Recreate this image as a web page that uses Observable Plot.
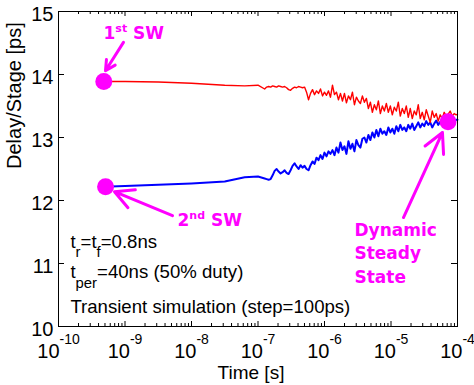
<!DOCTYPE html>
<html><head><meta charset="utf-8">
<script src="https://cdn.jsdelivr.net/npm/d3@7"></script>
<script src="https://cdn.jsdelivr.net/npm/@observablehq/plot@0.6"></script>
<style>body{margin:0;background:#fff}</style>
</head><body><div id="chart"></div>
<script>
// time samples as log10(seconds)
const logTime = [-9.32,-9.0,-8.5,-8.0,-7.5,-7.2,-7.0,
 -6.90,-6.87,-6.84,-6.81,-6.78,-6.75,-6.72,-6.69,-6.66,-6.63,
 -6.60,-6.57,-6.54,-6.51,-6.48,-6.45,-6.42,-6.39,-6.36,-6.33,
 -6.30,-6.27,-6.24,-6.21,-6.18,-6.15,-6.12,-6.09,-6.06,-6.03,
 -6.00,-5.97,-5.94,-5.91,-5.88,-5.85,-5.82,-5.79,-5.76,-5.73,
 -5.70,-5.67,-5.64,-5.61,-5.58,-5.55,-5.52,-5.49,-5.46,-5.43,
 -5.40,-5.37,-5.34,-5.31,-5.28,-5.25,-5.22,-5.19,-5.16,-5.13,
 -5.10,-5.07,-5.04,-5.01,-4.98,-4.95,-4.92,-4.89,-4.86,-4.83,
 -4.80,-4.77,-4.74,-4.71,-4.68,-4.65,-4.62,-4.59,-4.56,-4.53,
 -4.50,-4.47,-4.44,-4.41,-4.38,-4.35,-4.32,-4.29,-4.26,-4.23,
 -4.20,-4.17,-4.14,-4.11,-4.08,-4.05,-4.02,-4.00];
const red = [13.89,13.89,13.88,13.86,13.83,13.82,13.83,
 13.77,13.80,13.81,13.80,13.82,13.81,13.80,13.82,13.81,13.80,
 13.81,13.79,13.76,13.75,13.78,13.80,13.79,13.81,13.80,13.79,
 13.80,13.72,13.60,13.70,13.76,13.68,13.74,13.70,13.77,13.66,
 13.72,13.67,13.74,13.64,13.83,13.68,13.72,13.60,13.70,13.58,
 13.70,13.55,13.66,13.60,13.72,13.52,13.64,13.58,13.54,13.66,
 13.56,13.62,13.46,13.56,13.40,13.52,13.44,13.58,13.38,13.50,
 13.42,13.54,13.40,13.50,13.36,13.48,13.42,13.56,13.34,13.46,
 13.38,13.50,13.32,13.46,13.30,13.42,13.36,13.52,13.30,13.40,
 13.28,13.44,13.34,13.24,13.42,13.32,13.38,13.26,13.36,13.30,
 13.40,13.34,13.37,13.42,13.34,13.38,13.36,13.37];
const blue = [12.22,12.23,12.25,12.27,12.30,12.37,12.38,
 12.35,12.34,12.33,12.34,12.40,12.47,12.50,12.46,12.43,12.45,
 12.48,12.44,12.42,12.48,12.55,12.59,12.54,12.50,12.56,12.52,
 12.55,12.50,12.48,12.56,12.62,12.58,12.68,12.64,12.72,12.66,
 12.76,12.70,12.78,12.74,12.80,12.72,12.84,12.76,12.92,12.80,
 12.86,12.74,12.94,12.82,12.90,12.78,12.96,12.88,12.84,12.98,
 13.00,12.92,13.04,12.96,13.08,13.00,13.12,13.02,13.14,13.06,
 13.10,13.04,13.16,13.08,13.14,13.06,13.18,13.10,13.20,13.12,
 13.16,13.10,13.20,13.14,13.22,13.12,13.18,13.24,13.16,13.22,
 13.18,13.26,13.20,13.24,13.16,13.22,13.27,13.20,13.25,13.22,
 13.24,13.26,13.22,13.25,13.27,13.26,13.28,13.28];

const markerTime = [4.8e-10, 5.1e-10, 7.2e-5];
const markerValue = [13.89, 12.22, 13.25];

const arrowFrom = [[9.48e-10, 14.51], [5.18e-9, 11.76], [1.54e-5, 11.73]];
const arrowTo   = [[5.09e-10, 14.06], [6.95e-10, 12.14], [5.94e-5, 13.08]];

const calloutText = ["1^{st} SW", "2^{nd} SW", "Dynamic\nSteady\nState"];
const calloutPos = [[4.75e-10, 14.57], [6.15e-9, 11.603], [2.82e-6, 10.698]];

const noteText = ["t_{r}=t_{f}=0.8ns", "t_{per}=40ns (50% duty)", "Transient simulation (step=100ps)"];
const notePos = [[1.51e-10, 11.246], [1.51e-10, 10.762], [1.51e-10, 10.222]];

const xTicks = [1e-10, 1e-9, 1e-8, 1e-7, 1e-6, 1e-5, 1e-4];
const xMinor = xTicks.slice(0, -1).flatMap(m => [2,3,4,5,6,7,8,9].map(k => k * m));
const yTicks = [10, 11, 12, 13, 14, 15];
const xLabel = "Time [s]";
const yLabel = "Delay/Stage [ps]";

const redData = logTime.map((e, i) => ({t: 10 ** e, v: red[i]}));
const blueData = logTime.map((e, i) => ({t: 10 ** e, v: blue[i]}));
const markers = markerTime.map((t, i) => ({t, v: markerValue[i]}));
const arrows = arrowFrom.map((a, i) => ({x1: a[0], y1: a[1], x2: arrowTo[i][0], y2: arrowTo[i][1]}));
const callouts = calloutText.map((s, i) => ({s, t: calloutPos[i][0], v: calloutPos[i][1]}));
const notes = noteText.map((s, i) => ({s, t: notePos[i][0], v: notePos[i][1]}));

const W = 474, H = 385, mL = 58, mR = 17, mT = 11, mB = 59;
const fw = W - mL - mR, fh = H - mT - mB;
const MAG = "#ff00ff";
const SANS = "Liberation Sans, Arial, Helvetica, sans-serif";

const chart = Plot.plot({
  width: W, height: H,
  marginLeft: mL, marginRight: mR, marginTop: mT, marginBottom: mB,
  style: {fontFamily: SANS, background: "white", color: "black"},
  x: {type: "log", domain: [1e-10, 1e-4]},
  y: {domain: [10, 15]},
  marks: [
    Plot.line(blueData, {x: "t", y: "v", stroke: "#0000ff", strokeWidth: 2}),
    Plot.line(redData, {x: "t", y: "v", stroke: "#ff0000", strokeWidth: 1.4}),
    Plot.dot(markers, {x: "t", y: "v", r: 8.5, fill: MAG}),
    Plot.arrow(arrows, {x1: "x1", y1: "y1", x2: "x2", y2: "y2", stroke: MAG, strokeWidth: 3, headLength: 11, headAngle: 55}),
    Plot.text(callouts, {x: "t", y: "v", text: "s", fill: MAG, fontWeight: "bold", fontSize: 17,
      fontFamily: "DejaVu Sans, sans-serif", textAnchor: "start", lineAnchor: "bottom", lineHeight: 1.38}),
    Plot.text(notes, {x: "t", y: "v", text: "s", fill: "black", fontSize: 18.6, textAnchor: "start", lineAnchor: "bottom"}),
    Plot.axisX({ticks: xTicks, tickFormat: d => `10^{${Math.round(Math.log10(d))}}`, tickSize: 0, tickPadding: 17, fontSize: 20, label: null}),
    Plot.axisY({ticks: yTicks, tickFormat: d => String(d), tickSize: 0, tickPadding: 5, fontSize: 20, dy: 3.5, label: null}),
    Plot.tickX(xTicks, {x: d => d, stroke: "black", insetTop: fh - 5}),
    Plot.tickX(xTicks, {x: d => d, stroke: "black", insetBottom: fh - 5}),
    Plot.tickX(xMinor, {x: d => d, stroke: "black", insetTop: fh - 3}),
    Plot.tickX(xMinor, {x: d => d, stroke: "black", insetBottom: fh - 3}),
    Plot.tickY(yTicks, {y: d => d, stroke: "black", insetRight: fw - 6}),
    Plot.tickY(yTicks, {y: d => d, stroke: "black", insetLeft: fw - 6}),
    Plot.frame({stroke: "black", strokeWidth: 1}),
    Plot.text([xLabel], {text: d => d, frameAnchor: "bottom", lineAnchor: "bottom", dx: -7, dy: 52, fontSize: 19}),
    Plot.text([yLabel], {text: d => d, frameAnchor: "left", rotate: -90, dx: -43.5, fontSize: 20})
  ]
});
document.getElementById("chart").appendChild(chart);

// rich text: ^{...} superscripts and _{...} subscripts rendered as tspans
function richify(text, o) {
  const s = text.textContent;
  if (!/[\^_]\{/.test(s) || text.querySelector("tspan")) return;
  const holder = text.closest("[font-size]");
  const fs = holder ? parseFloat(holder.getAttribute("font-size")) : 10;
  text.textContent = "";
  const re = /([\^_])\{([^}]*)\}/g;
  let last = 0, offset = 0, m;
  const add = (str, kind) => {
    if (!str) return;
    const ts = document.createElementNS("http://www.w3.org/2000/svg", "tspan");
    let target = 0, size = null;
    if (kind === "^") { target = -o.supShift * fs; size = o.supScale * fs; }
    if (kind === "_") { target = o.subShift * fs; size = o.subScale * fs; }
    if (target !== offset) ts.setAttribute("dy", target - offset);
    offset = target;
    if (size) ts.setAttribute("font-size", size);
    ts.textContent = str;
    text.appendChild(ts);
  };
  while ((m = re.exec(s))) { add(s.slice(last, m.index), ""); add(m[2], m[1]); last = re.lastIndex; }
  add(s.slice(last), "");
}
chart.querySelectorAll('g[aria-label="x-axis tick label"] text').forEach(t =>
  richify(t, {supShift: 0.68, supScale: 0.7, subShift: 0.5, subScale: 0.8}));
chart.querySelectorAll("text").forEach(t =>
  richify(t, {supShift: 0.4, supScale: 0.65, subShift: 0.5, subScale: 0.8}));
</script>
</body></html>
